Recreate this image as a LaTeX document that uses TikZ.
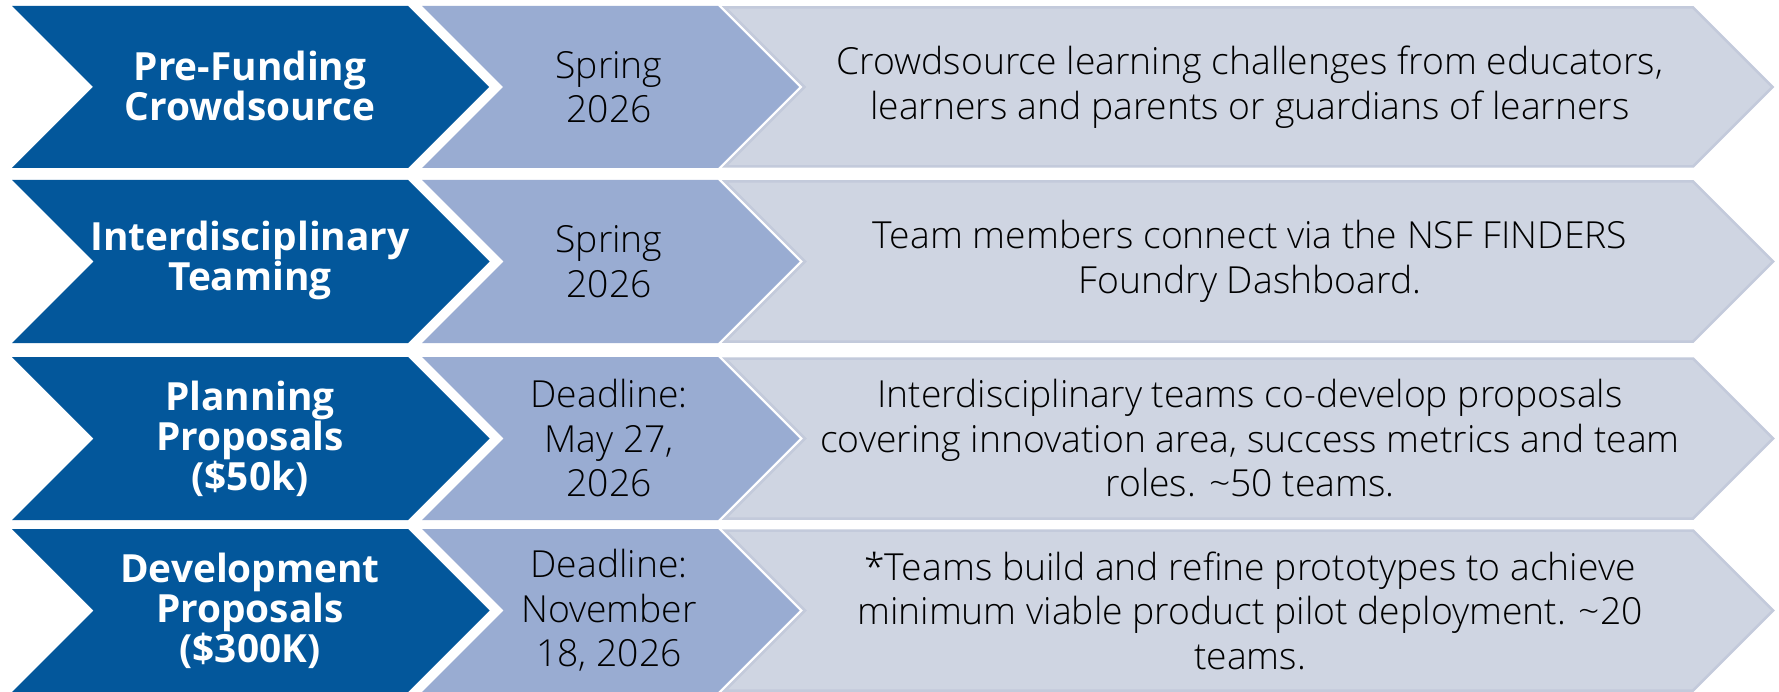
\documentclass[tikz,border=0pt]{standalone}
\usepackage{fontspec}
\setmainfont{Open Sans}
\IfFontExistsTF{Open Sans Light}
  {\newfontfamily\lightfont{Open Sans Light}}
  {\newfontfamily\lightfont{Open Sans}}
\newfontfamily\boldfont{Open Sans}[UprightFont={* Bold}]

\definecolor{phaseblue}{HTML}{03579B}
\definecolor{dateblue}{HTML}{99ACD2}
\definecolor{notegray}{HTML}{CFD5E2}
\definecolor{noteedge}{HTML}{C3CADB}

% chevron: #1 style, #2 left x, #3 right x, #4 top y, #5 bottom y
\newcommand\chevron[5]{%
  \pgfmathsetmacro\cy{(#4+#5)/2}%
  \pgfmathsetmacro\cd{(#5-#4)/2}%
  \path[#1] (#2,#4) -- (#3,#4) -- ({#3+\cd},\cy) -- (#3,#5) -- (#2,#5)
    -- ({#2+\cd},\cy) -- cycle;}

\tikzset{
  phasebox/.style={fill=phaseblue},
  datebox/.style={fill=dateblue},
  notebox/.style={fill=notegray, draw=noteedge, line width=2.5pt, line join=miter},
  phasetext/.style={text=white, align=center, inner sep=0pt,
    font=\boldfont\fontsize{38.8}{40}\selectfont},
  datetext/.style={text=black, align=center, inner sep=0pt,
    font=\lightfont\fontsize{37.3}{44.5}\selectfont},
  notetext/.style={text=black, align=center, inner sep=0pt,
    font=\lightfont\fontsize{37.3}{44.5}\selectfont},
}

\begin{document}
\begin{tikzpicture}[x=1pt, y=-1pt]
  \useasboundingbox (0,0) rectangle (1779,692);
  \fill[white] (0,0) rectangle (1779,692);

  % row 1
  \chevron{phasebox}{12}{408}{6}{168}
  \chevron{datebox}{422}{718}{6}{168}
  \chevron{notebox}{725}{1693}{7.5}{166.5}
  \node[phasetext] (p1) at (250,86) {Pre-Funding\\Crowdsource};
  \node[datetext] (d1) at (609,87) {Spring\\2026};
  \node[notetext] (n1) at (1250,87) {Crowdsource learning challenges from educators,\\learners and parents or guardians of learners};

  % row 2
  \chevron{phasebox}{12}{408}{180}{343}
  \chevron{datebox}{422}{718}{180}{343}
  \chevron{notebox}{725}{1693}{181.5}{341.5}
  \node[phasetext] (p2) at (250,260.5) {Interdisciplinary\\Teaming};
  \node[datetext] (d2) at (609,261.5) {Spring\\2026};
  \node[notetext] (n2) at (1250,261.5) {Team members connect via the NSF FINDERS\\Foundry Dashboard.};

  % row 3
  \chevron{phasebox}{12}{408}{357}{520}
  \chevron{datebox}{422}{718}{357}{520}
  \chevron{notebox}{725}{1693}{358.5}{518.5}
  \node[phasetext] (p3) at (250,438.5) {Planning\\Proposals\\(\$50k)};
  \node[datetext] (d3) at (609,438.5) {Deadline:\\May 27,\\2026};
  \node[notetext] (n3) at (1250,438.5) {Interdisciplinary teams co-develop proposals\\covering innovation area, success metrics and team\\roles. \textasciitilde50 teams.};

  % row 4
  \chevron{phasebox}{12}{408}{529}{692}
  \chevron{datebox}{422}{718}{529}{692}
  \chevron{notebox}{725}{1693}{530.5}{690.5}
  \node[phasetext] (p4) at (250,610.5) {Development\\Proposals\\(\$300K)};
  \node[datetext] (d4) at (609,610.5) {Deadline:\\November\\18, 2026};
  \node[notetext] (n4) at (1250,610.5) {*Teams build and refine prototypes to achieve\\minimum viable product pilot deployment. \textasciitilde20\\teams.};
\end{tikzpicture}
\end{document}
